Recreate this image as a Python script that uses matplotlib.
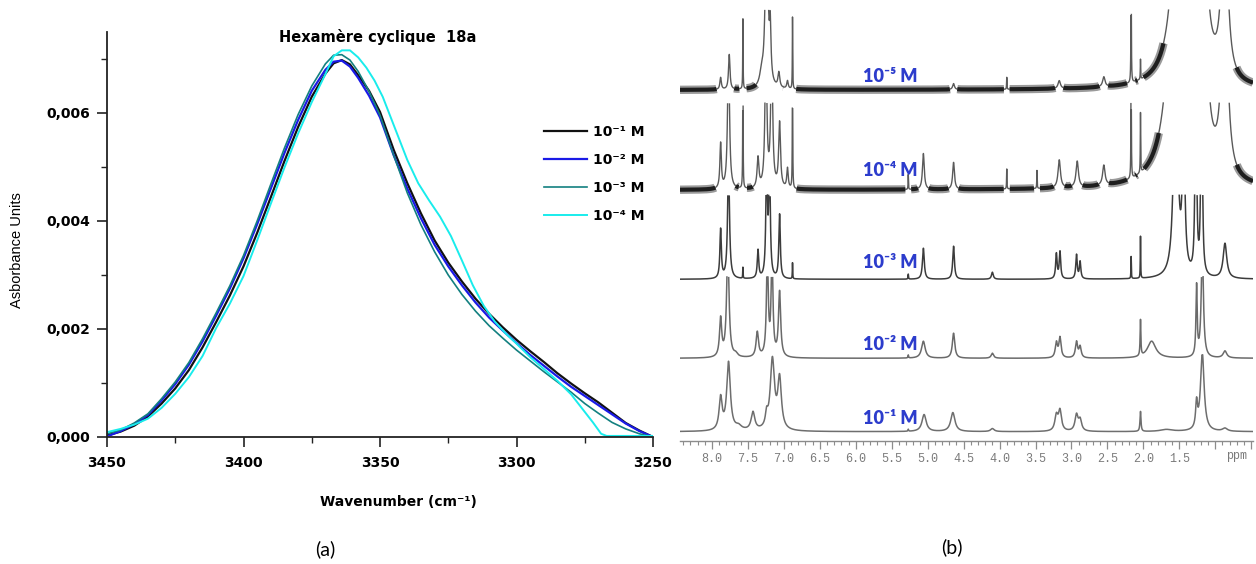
"""
IR band (panel a) and 1H NMR dilution stack (panel b) for the cyclic hexamer 18a
"""

import numpy as np
import matplotlib
matplotlib.use("Agg")
import matplotlib.pyplot as plt
from matplotlib.ticker import FuncFormatter, MultipleLocator
from numpy.lib.stride_tricks import sliding_window_view

# ---------------- panel (a): IR, N-H stretch region ----------------
ir_labels = ['10⁻¹ M', '10⁻² M', '10⁻³ M', '10⁻⁴ M']
ir_colors = ['#111111', '#1a1ae6', '#138080', '#19ecec']
ir_widths = [1.6, 1.6, 1.2, 1.4]

# wavenumber grid shared by the first three curves (cm-1)
wn = [3450, 3445, 3440, 3435, 3430, 3425, 3420, 3415, 3410, 3405, 3400, 3395, 3390, 3385, 3380,
      3375, 3370, 3367, 3364, 3361, 3358, 3354, 3350, 3345, 3340, 3335, 3330, 3325, 3320, 3315,
      3310, 3305, 3300, 3295, 3290, 3285, 3280, 3275, 3270, 3265, 3260, 3255, 3250]
abs_1 = [0.00003, 0.00010, 0.00021, 0.00038, 0.00062, 0.00090, 0.00124, 0.00166, 0.00213, 0.00262,
         0.00316, 0.00378, 0.00444, 0.00511, 0.00574, 0.00630, 0.00673, 0.00692, 0.00698, 0.00690,
         0.00670, 0.00641, 0.00602, 0.00532, 0.00470, 0.00414, 0.00364, 0.00323, 0.00288, 0.00256,
         0.00228, 0.00203, 0.00180, 0.00159, 0.00139, 0.00118, 0.00099, 0.00081, 0.00064, 0.00045,
         0.00026, 0.00012, 0.0]
abs_2 = [0.00001, 0.00011, 0.00024, 0.00041, 0.00068, 0.00098, 0.00134, 0.00177, 0.00225, 0.00275,
         0.00331, 0.00394, 0.00460, 0.00526, 0.00587, 0.00641, 0.00680, 0.00695, 0.00697, 0.00686,
         0.00665, 0.00632, 0.00592, 0.00522, 0.00460, 0.00405, 0.00356, 0.00316, 0.00281, 0.00249,
         0.00221, 0.00197, 0.00174, 0.00152, 0.00132, 0.00112, 0.00093, 0.00076, 0.00059, 0.00042,
         0.00025, 0.00011, 0.0]
abs_3 = [0.00006, 0.00013, 0.00026, 0.00043, 0.00071, 0.00102, 0.00138, 0.00182, 0.00230, 0.00280,
         0.00336, 0.00400, 0.00468, 0.00535, 0.00597, 0.00650, 0.00691, 0.00707, 0.00708, 0.00698,
         0.00677, 0.00640, 0.00596, 0.00522, 0.00452, 0.00393, 0.00343, 0.00300, 0.00264, 0.00233,
         0.00206, 0.00183, 0.00161, 0.00141, 0.00121, 0.00102, 0.00083, 0.00062, 0.00044, 0.00027,
         0.00015, 0.00006, 0.0]

# 10^-4 M curve has its own shoulder and cut-off, read on its own grid
wn_4 = [3450, 3445, 3440, 3435, 3430, 3425, 3420, 3415, 3410, 3405, 3400, 3395, 3390, 3385, 3380,
        3375, 3370, 3367, 3364, 3361, 3358, 3355, 3352, 3349, 3345, 3340, 3336, 3332, 3328, 3324,
        3320, 3316, 3312, 3308, 3304, 3300, 3295, 3290, 3285, 3280, 3276, 3272, 3269, 3267, 3260,
        3250]
abs_4 = [0.00009, 0.00015, 0.00023, 0.00034, 0.00054, 0.00080, 0.00111, 0.00150, 0.00202, 0.00247,
         0.00298, 0.00364, 0.00432, 0.00499, 0.00562, 0.00620, 0.00672, 0.00705, 0.00716, 0.00716,
         0.00703, 0.00684, 0.00660, 0.00630, 0.00578, 0.00513, 0.00470, 0.00438, 0.00408, 0.00372,
         0.00327, 0.00281, 0.00243, 0.00214, 0.00192, 0.00173, 0.00148, 0.00126, 0.00104, 0.00079,
         0.00053, 0.00027, 0.00006, 0.00002, 0.00002, 0.00002]

ir_x = [wn, wn, wn, wn_4]
ir_y = [abs_1, abs_2, abs_3, abs_4]

# ---------------- panel (b): 1H NMR peak lists (ppm, height in px, half width in ppm) ----------------
nmr_labels = ['10⁻¹ M', '10⁻² M', '10⁻³ M', '10⁻⁴ M', '10⁻⁵ M']

ppm_1 = [7.88, 7.77, 7.63, 7.43, 7.24, 7.16, 7.06, 5.27, 5.05, 4.65, 4.10, 3.21, 3.16, 2.93, 2.88,
         2.04, 1.68, 1.26, 1.18, 0.865]
hgt_1 = [32, 68, 4, 18, 12, 70, 50, 2, 17, 19, 3, 15, 20, 16, 11, 20, 2, 25, 78, 3]
wid_1 = [0.025, 0.03, 0.05, 0.03, 0.02, 0.035, 0.03, 0.005, 0.035, 0.035, 0.03, 0.025, 0.025,
         0.025, 0.025, 0.008, 0.1, 0.015, 0.03, 0.04]

ppm_2 = [7.88, 7.78, 7.67, 7.37, 7.23, 7.165, 7.06, 5.27, 5.06, 4.64, 4.10, 3.21, 3.16, 2.93, 2.88,
         2.04, 1.885, 1.26, 1.18, 0.865]
hgt_2 = [38, 110, 3, 25, 100, 100, 65, 3, 17, 25, 5, 15, 20, 16, 11, 36, 17, 70, 110, 7]
wid_2 = [0.018, 0.02, 0.03, 0.02, 0.015, 0.015, 0.018, 0.005, 0.03, 0.02, 0.02, 0.018, 0.018,
         0.018, 0.018, 0.006, 0.07, 0.01, 0.018, 0.03]

ppm_3 = [7.88, 7.77, 7.57, 7.36, 7.24, 7.20, 7.06, 6.88, 5.27, 5.06, 4.64, 4.10, 3.21, 3.16, 2.93,
         2.88, 2.17, 2.04, 1.55, 1.44, 1.27, 1.19, 0.865]
hgt_3 = [49, 120, 11, 28, 120, 120, 64, 16, 5, 31, 33, 7, 25, 27, 24, 17, 22, 42, 250, 150, 300,
         300, 35]
wid_3 = [0.012, 0.015, 0.003, 0.012, 0.012, 0.012, 0.012, 0.003, 0.004, 0.015, 0.014, 0.015,
         0.012, 0.012, 0.012, 0.012, 0.003, 0.003, 0.03, 0.02, 0.01, 0.01, 0.03]

ppm_4 = [7.88, 7.77, 7.57, 7.36, 7.25, 7.17, 7.06, 6.95, 6.88, 5.27, 5.06, 4.64, 3.90, 3.48, 3.17,
         2.92, 2.55, 2.17, 2.04, 1.50, 1.18, 0.87]
hgt_4 = [45, 150, 150, 30, 150, 150, 65, 20, 150, 15, 36, 27, 20, 18, 28, 26, 20, 150, 60, 600,
         300, 220]
wid_4 = [0.012, 0.015, 0.003, 0.015, 0.015, 0.015, 0.015, 0.012, 0.003, 0.003, 0.015, 0.015,
         0.003, 0.003, 0.02, 0.02, 0.02, 0.003, 0.003, 0.09, 0.05, 0.045]

ppm_5 = [7.88, 7.76, 7.57, 7.31, 7.24, 7.19, 7.07, 6.95, 6.88, 4.64, 3.90, 3.17, 2.55, 2.17, 2.04,
         1.45, 1.18, 0.87]
hgt_5 = [12, 35, 70, 12, 200, 50, 15, 8, 72, 6, 12, 8, 10, 150, 20, 700, 250, 200]
wid_5 = [0.012, 0.012, 0.003, 0.03, 0.02, 0.012, 0.015, 0.012, 0.003, 0.015, 0.003, 0.02, 0.02,
         0.003, 0.003, 0.07, 0.05, 0.045]

nmr_peaks = [(ppm_1, hgt_1, wid_1), (ppm_2, hgt_2, wid_2), (ppm_3, hgt_3, wid_3),
             (ppm_4, hgt_4, wid_4), (ppm_5, hgt_5, wid_5)]
nmr_base = [9.3, 82.7, 161.7, 251, 351]     # baseline of each trace above the ppm axis (px)
nmr_clip = [76.7, 81.6, 84.3, 87, 80]       # traces run off the top of their band
nmr_noisy = [False, False, False, True, True]
nmr_colors = ['#6e6e6e', '#6a6a6a', '#3c3c3c', '#5a5a5a', '#5a5a5a']
label_blue = '#2c3ccc'

W, H = 1256, 564
fig = plt.figure(figsize=(W / 100, H / 100), dpi=100)


def fx(px):
    return px / W


def fy(py):
    return 1 - py / H


# ---- (a) ----
ax = fig.add_axes([fx(107), fy(437), 546 / W, 405 / H])
for xs, ys, c, lw, lab in zip(ir_x, ir_y, ir_colors, ir_widths, ir_labels):
    ax.plot(xs, ys, color=c, linewidth=lw, label=lab, solid_joinstyle='round')
ax.set_xlim(3450, 3250)
ax.set_ylim(0, 0.0075)
for s in ['top', 'right']:
    ax.spines[s].set_visible(False)
for s in ['left', 'bottom']:
    ax.spines[s].set_linewidth(1.3)
    ax.spines[s].set_color('#222222')
ax.set_xticks([3450, 3400, 3350, 3300, 3250])
ax.xaxis.set_minor_locator(MultipleLocator(25))
ax.set_yticks([0, 0.002, 0.004, 0.006])
ax.yaxis.set_minor_locator(MultipleLocator(0.001))
ax.yaxis.set_major_formatter(FuncFormatter(lambda v, p: f"{v:.3f}".replace('.', ',')))
ax.tick_params(which='major', length=7, width=1.2, color='#222222', labelsize=10, pad=5)
ax.tick_params(which='minor', length=4, width=1.0, color='#222222')
ax.tick_params(axis='x', which='major', pad=7)
for t in ax.get_xticklabels() + ax.get_yticklabels():
    t.set_fontweight('bold')

leg = ax.legend(loc='upper left', bbox_to_anchor=(fx(544), fy(125)), bbox_transform=fig.transFigure,
                frameon=False, borderpad=0, borderaxespad=0, handlelength=3.1, handletextpad=0.45,
                labelspacing=1.0, prop={'weight': 'bold', 'size': 10})

fig.text(fx(378), fy(37), 'Hexamère cyclique  18a', ha='center', va='center',
         fontsize=10.5, fontweight='bold')
fig.text(fx(17), fy(250), 'Asborbance Units', rotation=90, ha='center', va='center', fontsize=10.5,
         family='Liberation Sans')
fig.text(fx(398), fy(502), 'Wavenumber (cm⁻¹)', ha='center', va='center',
         fontsize=10, fontweight='bold')
fig.text(fx(325), fy(549), '(a)', ha='center', va='center', fontsize=14, family='Lato')

# ---- (b) ----
bx = fig.add_axes([fx(680), fy(441), 573 / W, 441 / H])
grid = np.linspace(8.445, 0.475, 24000)
px_per_ppm = 573 / (8.445 - 0.475)
win = 121   # about 3 px of the ppm axis
for (pos, hgt, wid), base, top, noisy, col in zip(nmr_peaks, nmr_base, nmr_clip, nmr_noisy, nmr_colors):
    sig = np.zeros_like(grid)
    for p, h, w in zip(pos, hgt, wid):
        sig += h / (1 + ((grid - p) / w) ** 2)
    sig = np.where(sig > top, np.nan, sig)
    if noisy:
        # dilute spectra: fuzzy dark band wherever the trace bends gently,
        # thin grey line through the sharp peaks
        d1 = np.gradient(sig, grid) / px_per_ppm
        d2 = np.nan_to_num(np.abs(np.gradient(d1, grid) / px_per_ppm), nan=1e9)
        d2max = sliding_window_view(np.pad(d2, win // 2, mode='edge'), win).max(axis=1)
        flat = np.where(d2max < 0.8, base + sig, np.nan)
        bx.plot(grid, base + sig, color=col, linewidth=1.0)
        bx.plot(grid, flat, color='#9a9a9a', linewidth=6.0, solid_capstyle='butt')
        bx.plot(grid, flat, color='#1e1e1e', linewidth=3.0, solid_capstyle='butt')
    else:
        bx.plot(grid, base + sig, color=col, linewidth=1.1)

bx.set_xlim(8.445, 0.475)
bx.set_ylim(0, 441)
for s in ['top', 'right', 'left']:
    bx.spines[s].set_visible(False)
bx.spines['bottom'].set_color('#8c8c8c')
bx.spines['bottom'].set_linewidth(1.0)
bx.set_yticks([])
bx.set_xticks([8.0, 7.5, 7.0, 6.5, 6.0, 5.5, 5.0, 4.5, 4.0, 3.5, 3.0, 2.5, 2.0, 1.5, 1.0, 0.5])
bx.set_xticklabels(['8.0', '7.5', '7.0', '6.5', '6.0', '5.5', '5.0', '4.5', '4.0', '3.5', '3.0',
                    '2.5', '2.0', '1.5', '', ''])
bx.xaxis.set_minor_locator(MultipleLocator(0.1))
bx.tick_params(which='major', length=6, width=0.9, color='#8c8c8c', labelcolor='#7a7a7a',
               labelsize=8.5, pad=3)
bx.tick_params(which='minor', length=3, width=0.8, color='#8c8c8c')
for t in bx.get_xticklabels():
    t.set_family(['Liberation Mono', 'DejaVu Sans Mono'])
bx.text(0.71, -15, 'ppm', ha='center', va='center', fontsize=8.5, color='#7a7a7a',
        family=['Liberation Mono', 'DejaVu Sans Mono'], clip_on=False)

label_y = [23, 96, 178, 271, 364]
for lab, yy in zip(nmr_labels, label_y):
    bx.text(5.52, yy, lab, ha='center', va='center', fontsize=13, color=label_blue,
            fontweight='heavy', family=['Lato', 'DejaVu Sans'])

fig.text(fx(952), fy(547), '(b)', ha='center', va='center', fontsize=14, family='Lato')

plt.savefig('out.png', dpi=100)
